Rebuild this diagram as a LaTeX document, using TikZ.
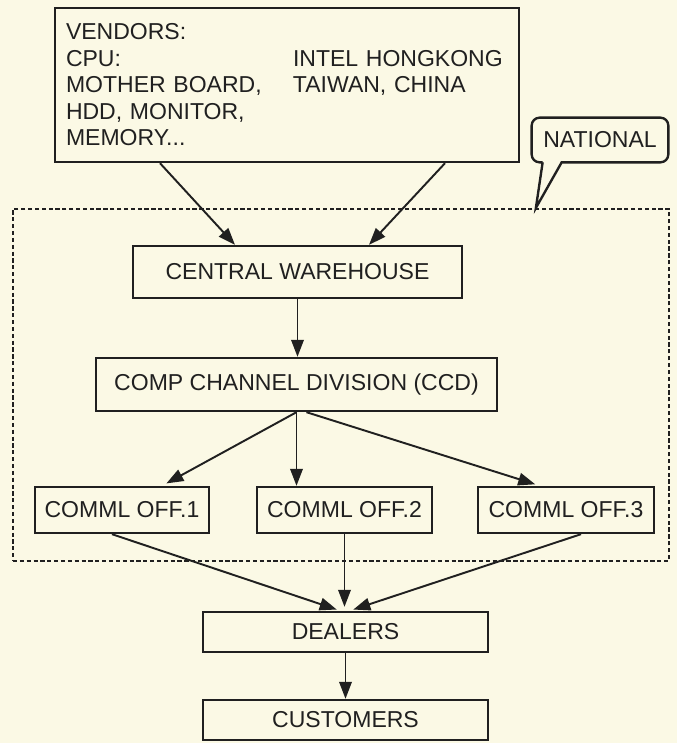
\documentclass[tikz,border=0pt]{standalone}
\usepackage{fontspec}
\setmainfont{Liberation Sans}
\usetikzlibrary{
  arrows.meta,
  calc
}
\definecolor{paper}{RGB}{251,249,229}
\definecolor{ink}{RGB}{32,32,32}

\begin{document}
\begin{tikzpicture}[
  box/.style={
    rectangle,
    draw=ink,
    fill=paper,
    line width=1.35pt,
    minimum width=#1,
    font=\fontsize{13.1pt}{15.1pt}\selectfont,
    text=ink,
    align=center,
    inner sep=0pt,
  },
  box/.default=3.5cm,
  zone/.style={
    rectangle,
    draw=ink,
    line width=1.25pt,
    dash pattern=on 2.4pt off 1.5pt,
    inner sep=0pt,
  },
  arrow/.style={-{Triangle[length=0.34cm,width=0.25cm]}, line width=1.1pt, ink},
]

% ── Paper ──
\fill[paper] (0,0) rectangle (13.54,-14.86);

% ── National area (dashed) ──
\node[zone, minimum width=13.12cm, minimum height=7.04cm] (natbox) at (6.82,-7.70) {};

% ── Vendors ──
\node[box=9.28cm, minimum height=3.08cm, text width=8.84cm, inner xsep=0.22cm, align=left] (vendors) at (5.74,-1.70) {
  VENDORS:\\
  \makebox[4.54cm][l]{CPU:}INTEL HONGKONG\\
  \makebox[4.54cm][l]{MOTHER BOARD,}TAIWAN, CHINA\\
  HDD, MONITOR,\\
  MEMORY...
};

% ── Callout ──
\node[font=\fontsize{13.1pt}{15.1pt}\selectfont, text=ink, minimum width=2.72cm, minimum height=0.88cm, inner sep=0pt] (national) at (12.0,-2.8) {NATIONAL};
\coordinate (tip) at ($(natbox.north west)+(10.48,0)$);
\draw[ink, line width=1.35pt, rounded corners=0.16cm]
  ([xshift=0.22cm]national.south west) [sharp corners] -- (tip) -- ([xshift=0.6cm]national.south west)
  [rounded corners=0.16cm] -- (national.south east) -- (national.north east)
  -- (national.north west) -- (national.south west) -- ([xshift=0.22cm]national.south west);

% ── Inside the national area ──
\node[box=6.58cm, minimum height=1.04cm] (cw) at (5.95,-5.44) {CENTRAL WAREHOUSE};
\node[box=8.02cm, minimum height=1.06cm] (ccd) at (5.93,-7.69) {COMP CHANNEL DIVISION (CCD)};

\node[box=3.48cm, minimum height=0.92cm] (off1) at (2.44,-10.20) {COMML OFF.1};
\node[box=3.50cm, minimum height=0.92cm] (off2) at (6.89,-10.20) {COMML OFF.2};
\node[box=3.52cm, minimum height=0.92cm] (off3) at (11.32,-10.20) {COMML OFF.3};

% ── Below ──
\node[box=5.70cm, minimum height=0.80cm] (dealers) at (6.91,-12.64) {DEALERS};
\node[box=5.70cm, minimum height=0.80cm] (customers) at (6.91,-14.40) {CUSTOMERS};

% ── Arrows ──
\draw[arrow] ([xshift=-2.54cm]vendors.south) -- ([xshift=-1.25cm]cw.north);
\draw[arrow] ([xshift=3.16cm]vendors.south) -- ([xshift=1.43cm]cw.north);
\draw[arrow] (cw.south) -- (cw.south |- ccd.north);

\draw[arrow, shorten >=0.1cm] (ccd.south) -- ([xshift=0.8cm]off1.north);
\draw[arrow] (ccd.south) -- (ccd.south |- off2.north);
\draw[arrow, shorten >=0.1cm] ([xshift=0.2cm]ccd.south) -- ([xshift=-0.52cm]off3.north);

\draw[arrow, shorten >=0.08cm] ([xshift=-0.2cm]off1.south) -- ([xshift=-0.1cm]dealers.north);
\draw[arrow, shorten >=0.08cm] (off2.south) -- (off2.south |- dealers.north);
\draw[arrow, shorten >=0.08cm] ([xshift=0.3cm]off3.south) -- ([xshift=0.08cm]dealers.north);

\draw[arrow] (dealers.south) -- (customers.north);

\end{tikzpicture}
\end{document}
